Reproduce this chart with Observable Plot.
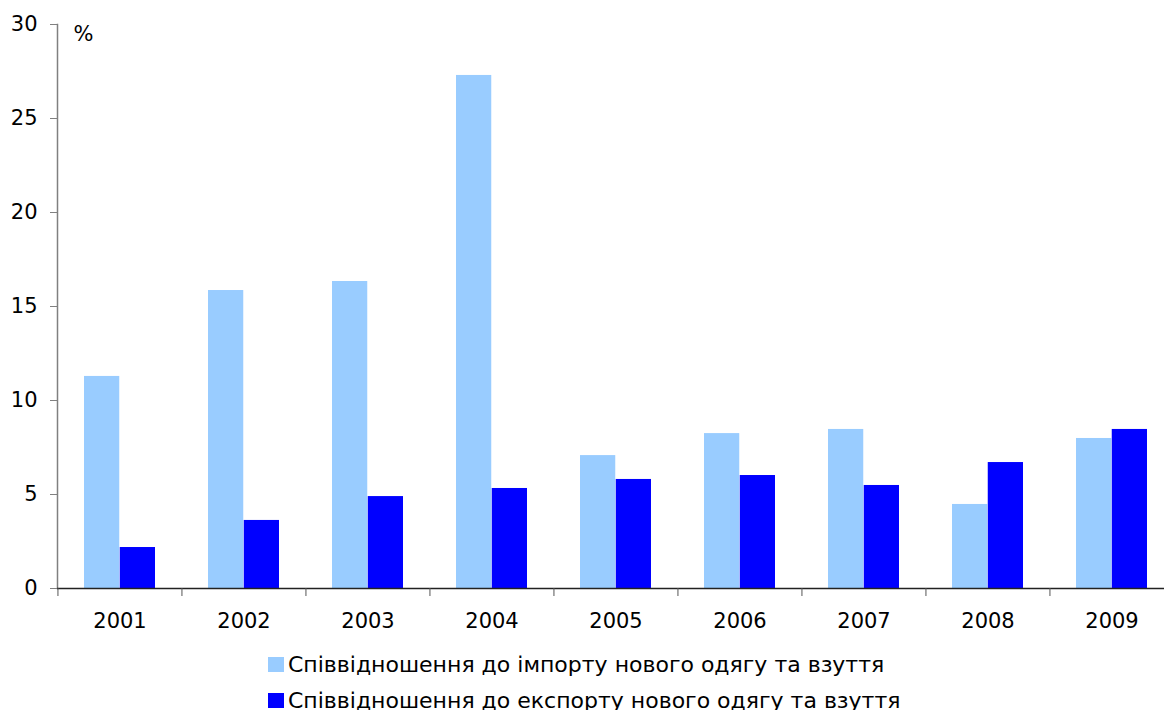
<!DOCTYPE html>
<html><head><meta charset="utf-8">
<script src="https://cdn.jsdelivr.net/npm/d3@7"></script>
<script src="https://cdn.jsdelivr.net/npm/@observablehq/plot@0.6"></script>
<style>
body{margin:0;background:#fff;font-family:"DejaVu Sans",Verdana,sans-serif;overflow:hidden;}
#legend{position:absolute;left:268px;top:646px;font-size:22px;color:#000;}
.row{display:flex;align-items:center;height:36px;white-space:nowrap;}
.sw{width:16px;height:15px;margin-right:4px;flex:none;}
</style></head><body>
<div id="chart"></div>
<div id="legend"></div>
<script>
const years = ["2001","2002","2003","2004","2005","2006","2007","2008","2009"];
const importRatio = [11.28, 15.85, 16.33, 27.29, 7.07, 8.24, 8.46, 4.47, 7.98];
const exportRatio = [2.18, 3.62, 4.89, 5.32, 5.80, 6.01, 5.48, 6.70, 8.46];
const seriesNames = ["Співвідношення до імпорту нового одягу та взуття", "Співвідношення до експорту нового одягу та взуття"];
const seriesColors = ["#99CCFF", "#0000FF"];
const yTicks = [0, 5, 10, 15, 20, 25, 30];
const unitLabel = "%";

const importRows = years.map((y, i) => ({year: y, series: seriesNames[0], value: importRatio[i]}));
const exportRows = years.map((y, i) => ({year: y, series: seriesNames[1], value: exportRatio[i]}));

const plot = Plot.plot({
  width: 1164, height: 640,
  marginTop: 24, marginBottom: 52, marginLeft: 57, marginRight: 0,
  style: {fontFamily: "DejaVu Sans, Verdana, sans-serif", fontSize: "21px", color: "#000", background: "#fff", overflow: "visible"},
  x: {domain: years, range: [57, 1174], paddingInner: 0.424, paddingOuter: 0.212},
  y: {domain: [0, 30]},
  color: {domain: seriesNames, range: seriesColors},
  marks: [
    Plot.barY(importRows, {x: "year", y: "value", fill: "series", insetRight: 35.75}),
    Plot.barY(exportRows, {x: "year", y: "value", fill: "series", insetLeft: 35.75}),
    Plot.frame({anchor: "left", stroke: "#808080", strokeWidth: 1.5}),
    Plot.ruleY([0], {stroke: "#222", strokeWidth: 1.5}),
    Plot.axisY({ticks: yTicks, tickSize: 7, tickPadding: 13, stroke: "#808080", fill: "#000", fontSize: 21, label: null}),
    Plot.axisX({tickSize: 0, tickPadding: 25, fill: "#000", fontSize: 21, label: null}),
    Plot.axisX({tickSize: 8, tickFormat: () => "", dx: -62.06, stroke: "#555", label: null}),
    Plot.text([unitLabel], {frameAnchor: "top-left", text: d => d, dx: 16, dy: 2, fontSize: 21, fill: "#000"})
  ]
});
document.getElementById("chart").append(plot);

const legend = document.getElementById("legend");
seriesNames.forEach((name, i) => {
  const row = document.createElement("div");
  row.className = "row";
  const sw = document.createElement("span");
  sw.className = "sw";
  sw.style.background = seriesColors[i];
  const t = document.createElement("span");
  t.textContent = name;
  row.append(sw, t);
  legend.append(row);
});
</script>
</body></html>
